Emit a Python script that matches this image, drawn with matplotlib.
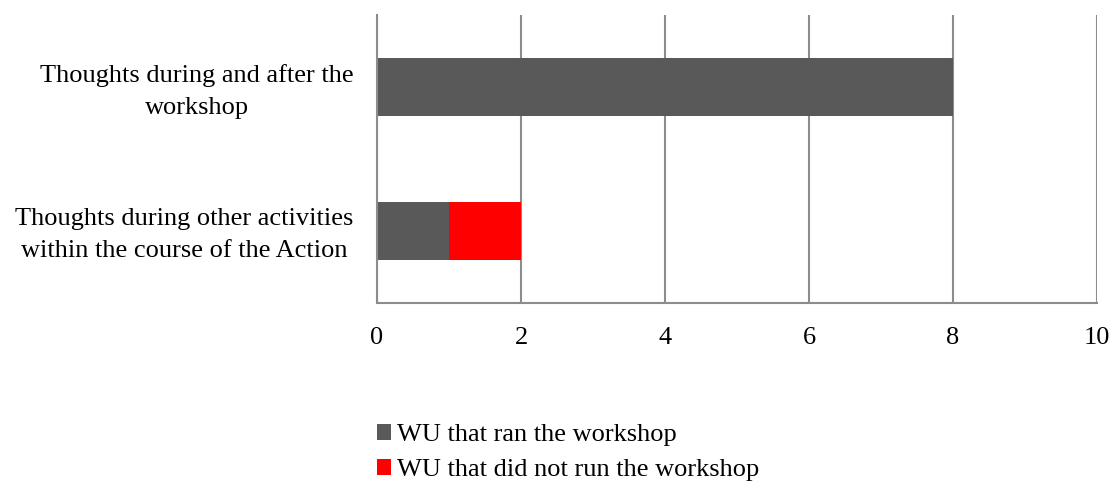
import matplotlib
matplotlib.use("Agg")
import matplotlib.pyplot as plt
import numpy as np

categories = ["Thoughts during and after the\nworkshop",
              "Thoughts during other activities\nwithin the course of the Action"]
ran_workshop = [8, 1]
not_ran_workshop = [0, 1]
series_names = ["WU that ran the workshop", "WU that did not run the workshop"]
colors = ["#595959", "#ff0000"]
xticks = [0, 2, 4, 6, 8, 10]

plt.rcParams['font.family'] = ['Liberation Serif', 'DejaVu Serif']
FS = 19

fig = plt.figure(figsize=(11.15, 4.83), dpi=100)
ax = fig.add_axes([377/1115, 1 - 303/483, 720/1115, 288/483])

y = np.arange(len(categories))
h1 = ax.barh(y, ran_workshop, height=0.4, color=colors[0], label=series_names[0], zorder=3)
h2 = ax.barh(y, not_ran_workshop, left=ran_workshop, height=0.4, color=colors[1],
             label=series_names[1], zorder=3)

ax.set_ylim(len(categories) - 0.5, -0.5)
ax.set_xlim(0, 10)
ax.set_xticks(xticks)
ax.set_xticklabels([str(t) for t in xticks], fontsize=FS)
ax.set_yticks(y)
ax.set_yticklabels([])
for yi, cat in zip(y, categories):
    ax.annotate(cat, xy=(0, yi), xycoords=('axes fraction', 'data'),
                xytext=(-17, -3.0), textcoords='offset points',
                ha='right', va='center', multialignment='center',
                linespacing=1.6, fontsize=FS)
ax.tick_params(axis='both', length=0)
ax.tick_params(axis='x', pad=17)
ax.grid(axis='x', color='#8c8c8c', linewidth=1.5, zorder=0)
for s in ['top', 'right']:
    ax.spines[s].set_visible(False)
for s in ['left', 'bottom']:
    ax.spines[s].set_color('#8c8c8c')
    ax.spines[s].set_linewidth(1.5)
    ax.spines[s].set_zorder(4)

fig.legend(handles=[h1, h2], labels=series_names, loc='upper left',
           bbox_to_anchor=(377/1115, 1 - 424/483), frameon=False, fontsize=FS,
           handlelength=0.53, handleheight=0.53, handletextpad=0.23, labelspacing=0.5,
           borderaxespad=0, borderpad=0)

fig.savefig("out.png", dpi=100)
